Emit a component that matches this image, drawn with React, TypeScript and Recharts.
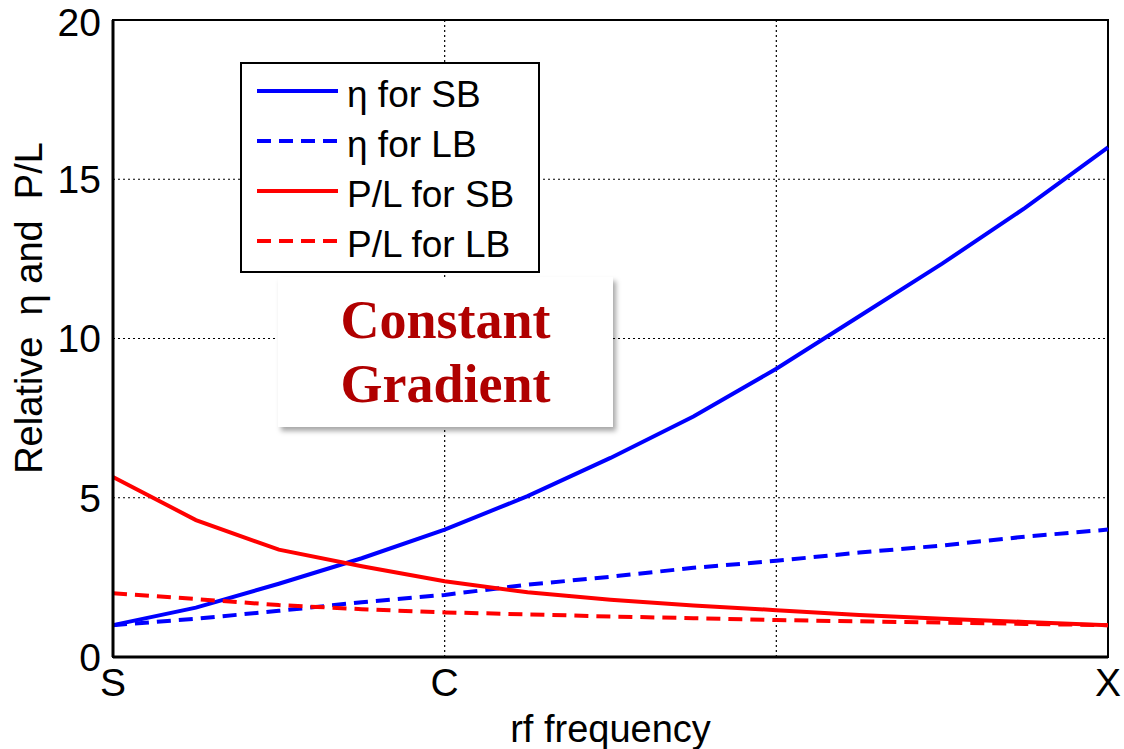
import React from 'react';
import { LineChart, Line, XAxis, YAxis, CartesianGrid, Legend, ReferenceArea } from 'recharts';

// rf frequency position: 0 = S, 1 = C, 3 = X
const freq = [0, 0.25, 0.5, 0.75, 1, 1.25, 1.5, 1.75, 2, 2.25, 2.5, 2.75, 3];
const etaSB = [1.0, 1.55, 2.3, 3.1, 4.0, 5.05, 6.25, 7.55, 9.05, 10.7, 12.35, 14.1, 16.0];
const etaLB = [1.0, 1.2, 1.45, 1.72, 1.95, 2.27, 2.52, 2.8, 3.02, 3.28, 3.5, 3.78, 4.0];
const plSB = [5.65, 4.3, 3.37, 2.85, 2.38, 2.03, 1.8, 1.62, 1.47, 1.32, 1.2, 1.1, 1.0];
const plLB = [2.0, 1.82, 1.63, 1.5, 1.4, 1.34, 1.27, 1.22, 1.16, 1.12, 1.08, 1.04, 1.0];

const freqTicks = [0, 1, 2, 3];
const freqLabels = ['S', 'C', '', 'X'];
const yTicks = [0, 5, 10, 15, 20];

const series = [
  { key: 'etaSB', name: 'η for SB', color: '#0000ff', dash: undefined },
  { key: 'etaLB', name: 'η for LB', color: '#0000ff', dash: '14 8' },
  { key: 'plSB', name: 'P/L for SB', color: '#ff0000', dash: undefined },
  { key: 'plLB', name: 'P/L for LB', color: '#ff0000', dash: '14 8' },
];

const data = freq.map((t, i) => ({
  t,
  etaSB: etaSB[i],
  etaLB: etaLB[i],
  plSB: plSB[i],
  plLB: plLB[i],
}));

const FONT = '"Liberation Sans", Arial, sans-serif';

const LegendBox = () => (
  <div
    style={{
      boxSizing: 'border-box',
      width: 300,
      height: 211,
      border: '2px solid #000',
      background: '#fff',
      paddingTop: 2,
      fontFamily: FONT,
      fontSize: 37,
      color: '#000',
    }}
  >
    {series.map(s => (
      <div key={s.key} style={{ height: 50, display: 'flex', alignItems: 'center' }}>
        <svg width={90} height={10} style={{ marginLeft: 15, flexShrink: 0 }}>
          <line x1={0} y1={5} x2={81} y2={5} stroke={s.color} strokeWidth={4} strokeDasharray={s.dash} />
        </svg>
        <span style={{ lineHeight: 1, marginTop: 6, whiteSpace: 'nowrap' }}>{s.name}</span>
      </div>
    ))}
  </div>
);

export default function App() {
  return (
    <div style={{ position: 'absolute', left: 0, top: 0, width: 1124, height: 749, background: '#fff' }}>
      <LineChart width={1124} height={749} data={data} margin={{ top: 20, right: 16, bottom: 0, left: 0 }}>
        <CartesianGrid stroke="#000" strokeDasharray="2 3" strokeWidth={1.2} />
        <XAxis
          dataKey="t"
          type="number"
          domain={[0, 3]}
          ticks={freqTicks}
          tickFormatter={(v: number) => freqLabels[freqTicks.indexOf(v)] ?? ''}
          height={92}
          tickSize={0}
          tickMargin={11}
          axisLine={{ stroke: '#000', strokeWidth: 3 }}
          tick={{ fill: '#000', fontSize: 39, fontFamily: FONT }}
          label={{
            content: ({ viewBox }: any) => (
              <text
                x={viewBox.x + viewBox.width / 2}
                y={742}
                textAnchor="middle"
                fill="#000"
                fontSize={38}
                fontFamily={FONT}
              >
                rf frequency
              </text>
            ),
          }}
        />
        <YAxis
          type="number"
          domain={[0, 20]}
          ticks={yTicks}
          width={113}
          tickSize={0}
          tickMargin={12}
          axisLine={{ stroke: '#000', strokeWidth: 3 }}
          tick={{ fill: '#000', fontSize: 39, fontFamily: FONT }}
          label={{
            content: () => (
              <text
                x={0}
                y={0}
                transform="translate(42, 308) rotate(-90)"
                textAnchor="middle"
                fill="#000"
                fontSize={38}
                fontFamily={FONT}
                style={{ whiteSpace: 'pre' }}
              >
                {'Relative  η and  P/L'}
              </text>
            ),
          }}
        />
        <ReferenceArea x1={0} x2={3} y1={0} y2={20} fill="none" stroke="#000" strokeWidth={2} ifOverflow="visible" />
        {series.map(s => (
          <Line
            key={s.key}
            type="linear"
            dataKey={s.key}
            name={s.name}
            stroke={s.color}
            strokeWidth={4}
            strokeDasharray={s.dash}
            dot={false}
            activeDot={false}
            isAnimationActive={false}
          />
        ))}
        <Legend
          layout="vertical"
          align="center"
          verticalAlign="middle"
          content={() => <LegendBox />}
          wrapperStyle={{ position: 'absolute', left: 240, top: 62, width: 300, height: 211 }}
        />
      </LineChart>
      <div
        style={{
          position: 'absolute',
          left: 278,
          top: 277,
          width: 335,
          height: 150,
          background: '#fff',
          boxShadow: '3px 4px 5px rgba(0,0,0,0.35)',
          display: 'flex',
          flexDirection: 'column',
          alignItems: 'center',
          justifyContent: 'center',
          fontFamily: '"Liberation Serif", "Times New Roman", serif',
          fontWeight: 'bold',
          fontSize: 54,
          lineHeight: '64px',
          color: '#b00000',
        }}
      >
        <div>Constant</div>
        <div>Gradient</div>
      </div>
    </div>
  );
}
